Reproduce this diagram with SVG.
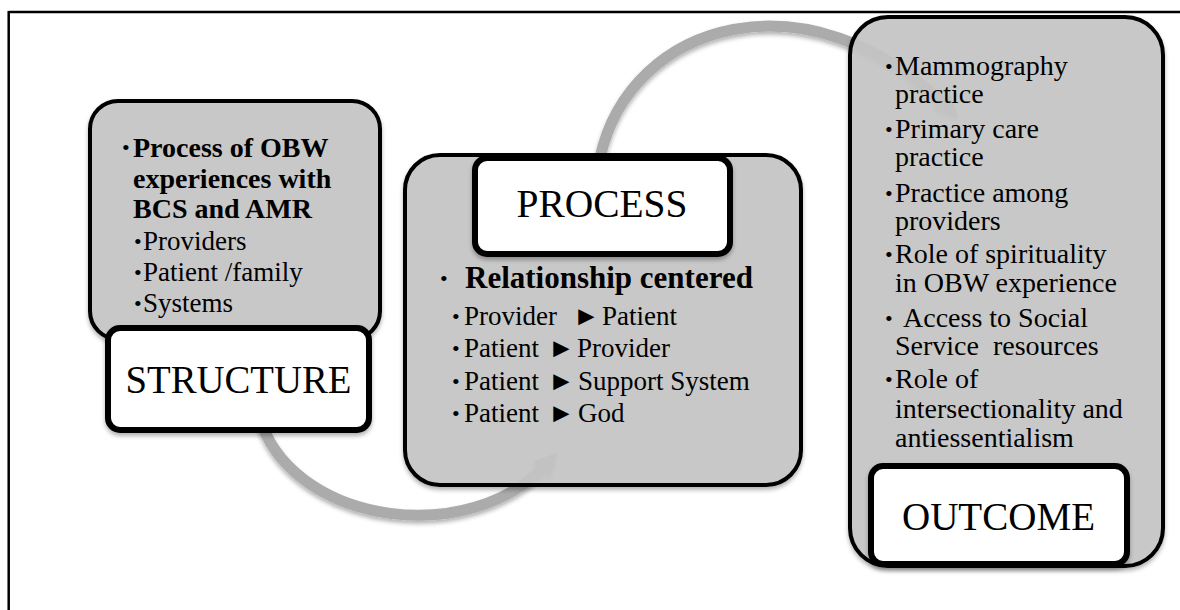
<svg xmlns="http://www.w3.org/2000/svg" width="1180" height="610" viewBox="0 0 1180 610" font-family="'Liberation Serif', 'Times New Roman', 'DejaVu Serif', serif">
  <defs>
    <filter id="sh" x="-10%" y="-10%" width="120%" height="125%">
      <feDropShadow dx="0" dy="3" stdDeviation="2" flood-color="#000" flood-opacity="0.3"/>
    </filter>
    <marker id="ah" viewBox="0 0 10 10" refX="4" refY="5" markerWidth="2.2" markerHeight="2.2" orient="auto" markerUnits="strokeWidth">
      <path d="M0,0 L10,5 L0,10 z" fill="#ababab"/>
    </marker>
    <style>
      .frame{stroke:#000;stroke-width:2.5;fill:none}
      .arc{fill:none;stroke:#ababab;stroke-width:11;marker-end:url(#ah)}
      .panel{fill:#c6c6c6;fill-opacity:0.9;stroke:#000;stroke-width:4}
      .label{fill:#fff;stroke:#000;stroke-width:6}
      text{fill:#000}
      .title{font-size:39px}
      .hb{font-size:28px;font-weight:bold}
      .sub{font-size:27px}
      .out{font-size:28px}
      .bul{font-size:22px}
    </style>
  </defs>

  <line class="frame" x1="8.7" y1="12" x2="1180" y2="12"/>
  <line class="frame" x1="8.7" y1="11" x2="8.7" y2="610"/>

  <g id="connectors" filter="url(#sh)">
    <path class="arc" d="M 262 425 C 300 525, 470 548, 548 463"/>
    <path class="arc" d="M 600 158 C 630 20, 810 -30, 948 108"/>
  </g>

  <g id="structure">
    <g filter="url(#sh)">
      <rect class="panel" x="90" y="101" width="290" height="238" rx="28"/>
    </g>
    <text class="bul" x="122" y="155">•</text>
    <text class="hb" x="133" y="157">Process of OBW</text>
    <text class="hb" x="133" y="188">experiences with</text>
    <text class="hb" x="133" y="218">BCS and AMR</text>
    <text class="bul" x="134" y="249">•</text>
    <text class="sub" x="143" y="250">Providers</text>
    <text class="bul" x="134" y="280">•</text>
    <text class="sub" x="143" y="281">Patient /family</text>
    <text class="bul" x="134" y="311">•</text>
    <text class="sub" x="143" y="312">Systems</text>
    <g filter="url(#sh)">
      <rect class="label" x="108" y="328" width="261" height="102" rx="12"/>
    </g>
    <text class="title" x="238.5" y="393" text-anchor="middle" textLength="226" lengthAdjust="spacingAndGlyphs">STRUCTURE</text>
  </g>

  <g id="process">
    <g filter="url(#sh)">
      <rect class="panel" x="405" y="155" width="396" height="330" rx="35"/>
    </g>
    <g filter="url(#sh)">
      <rect class="label" x="475" y="158" width="255" height="96" rx="12"/>
    </g>
    <text class="title" x="602" y="217" text-anchor="middle" textLength="171" lengthAdjust="spacingAndGlyphs">PROCESS</text>
    <text class="bul" x="440" y="286">•</text>
    <text x="465" y="288" style="font-size:31px;font-weight:bold">Relationship centered</text>
    <text class="bul" x="452" y="324">•</text>
    <text class="sub" y="325"><tspan x="464">Provider</tspan><tspan x="573">►</tspan><tspan x="602">Patient</tspan></text>
    <text class="bul" x="452" y="356">•</text>
    <text class="sub" y="357"><tspan x="464">Patient</tspan><tspan x="548">►</tspan><tspan x="577">Provider</tspan></text>
    <text class="bul" x="452" y="389">•</text>
    <text class="sub" y="390"><tspan x="464">Patient</tspan><tspan x="548">►</tspan><tspan x="578">Support System</tspan></text>
    <text class="bul" x="452" y="421">•</text>
    <text class="sub" y="422"><tspan x="464">Patient</tspan><tspan x="548">►</tspan><tspan x="578">God</tspan></text>
  </g>

  <g id="outcome">
    <g filter="url(#sh)">
      <rect class="panel" x="850" y="17" width="313" height="549" rx="38"/>
    </g>
    <text class="bul" x="885" y="74">•</text>
    <text class="out" x="895" y="75">Mammography</text>
    <text class="out" x="895" y="103">practice</text>
    <text class="bul" x="885" y="137">•</text>
    <text class="out" x="895" y="138">Primary care</text>
    <text class="out" x="895" y="166">practice</text>
    <text class="bul" x="885" y="201">•</text>
    <text class="out" x="895" y="202">Practice among</text>
    <text class="out" x="895" y="230">providers</text>
    <text class="bul" x="885" y="262">•</text>
    <text class="out" x="895" y="263">Role of spirituality</text>
    <text class="out" x="895" y="292">in OBW experience</text>
    <text class="bul" x="885" y="326">•</text>
    <text class="out" x="903" y="327">Access to Social</text>
    <text class="out" x="895" y="355" xml:space="preserve">Service  resources</text>
    <text class="bul" x="885" y="387">•</text>
    <text class="out" x="895" y="388">Role of</text>
    <text class="out" x="895" y="418">intersectionality and</text>
    <text class="out" x="895" y="447">antiessentialism</text>
    <g filter="url(#sh)">
      <rect class="label" x="871" y="466" width="256" height="98" rx="12"/>
    </g>
    <text class="title" x="998.5" y="530" text-anchor="middle" textLength="193" lengthAdjust="spacingAndGlyphs">OUTCOME</text>
  </g>
</svg>
